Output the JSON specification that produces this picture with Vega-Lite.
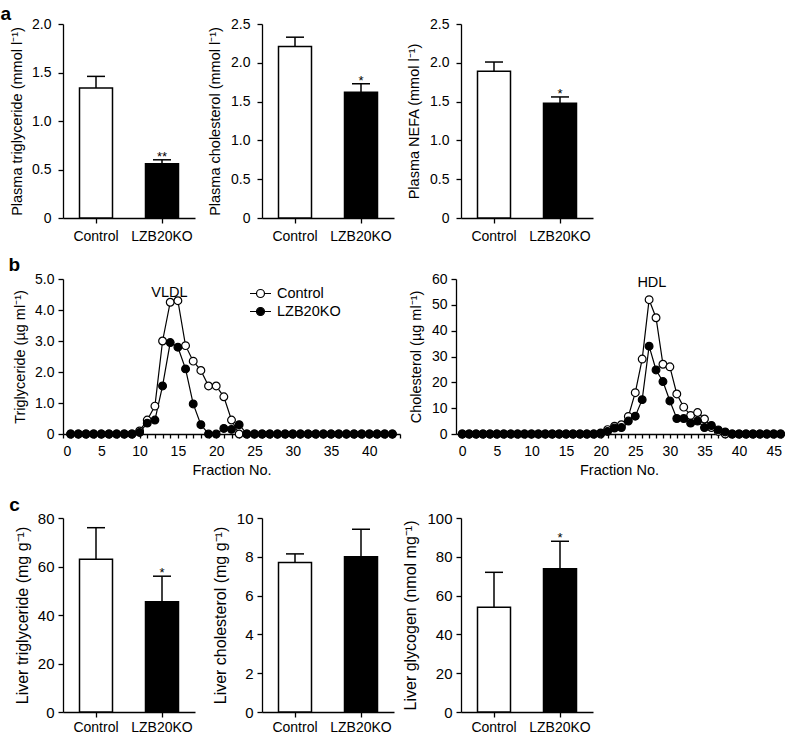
{
  "$schema": "https://vega.github.io/schema/vega-lite/v6.json",
  "padding": {"left": 0, "top": 5, "right": 0, "bottom": 0},
  "background": "white",
  "datasets": {
    "b1": [
      {"f":1,"v":0,"g":"Control"},{"f":2,"v":0,"g":"Control"},{"f":3,"v":0,"g":"Control"},{"f":4,"v":0,"g":"Control"},{"f":5,"v":0,"g":"Control"},{"f":6,"v":0,"g":"Control"},{"f":7,"v":0,"g":"Control"},{"f":8,"v":0,"g":"Control"},{"f":9,"v":0,"g":"Control"},{"f":10,"v":0.1,"g":"Control"},{"f":11,"v":0.45,"g":"Control"},{"f":12,"v":0.9,"g":"Control"},{"f":13,"v":3.0,"g":"Control"},{"f":14,"v":4.25,"g":"Control"},{"f":15,"v":4.3,"g":"Control"},{"f":16,"v":2.85,"g":"Control"},{"f":17,"v":2.35,"g":"Control"},{"f":18,"v":2.05,"g":"Control"},{"f":19,"v":1.55,"g":"Control"},{"f":20,"v":1.55,"g":"Control"},{"f":21,"v":1.2,"g":"Control"},{"f":22,"v":0.45,"g":"Control"},{"f":23,"v":0,"g":"Control"},{"f":24,"v":0,"g":"Control"},{"f":25,"v":0,"g":"Control"},{"f":26,"v":0,"g":"Control"},{"f":27,"v":0,"g":"Control"},{"f":28,"v":0,"g":"Control"},{"f":29,"v":0,"g":"Control"},{"f":30,"v":0,"g":"Control"},{"f":31,"v":0,"g":"Control"},{"f":32,"v":0,"g":"Control"},{"f":33,"v":0,"g":"Control"},{"f":34,"v":0,"g":"Control"},{"f":35,"v":0,"g":"Control"},{"f":36,"v":0,"g":"Control"},{"f":37,"v":0,"g":"Control"},{"f":38,"v":0,"g":"Control"},{"f":39,"v":0,"g":"Control"},{"f":40,"v":0,"g":"Control"},{"f":41,"v":0,"g":"Control"},{"f":42,"v":0,"g":"Control"},{"f":43,"v":0,"g":"Control"},
      {"f":1,"v":0,"g":"LZB20KO"},{"f":2,"v":0,"g":"LZB20KO"},{"f":3,"v":0,"g":"LZB20KO"},{"f":4,"v":0,"g":"LZB20KO"},{"f":5,"v":0,"g":"LZB20KO"},{"f":6,"v":0,"g":"LZB20KO"},{"f":7,"v":0,"g":"LZB20KO"},{"f":8,"v":0,"g":"LZB20KO"},{"f":9,"v":0,"g":"LZB20KO"},{"f":10,"v":0.05,"g":"LZB20KO"},{"f":11,"v":0.35,"g":"LZB20KO"},{"f":12,"v":0.45,"g":"LZB20KO"},{"f":13,"v":1.55,"g":"LZB20KO"},{"f":14,"v":2.95,"g":"LZB20KO"},{"f":15,"v":2.8,"g":"LZB20KO"},{"f":16,"v":2.1,"g":"LZB20KO"},{"f":17,"v":0.97,"g":"LZB20KO"},{"f":18,"v":0.3,"g":"LZB20KO"},{"f":19,"v":0,"g":"LZB20KO"},{"f":20,"v":0,"g":"LZB20KO"},{"f":21,"v":0.18,"g":"LZB20KO"},{"f":22,"v":0.15,"g":"LZB20KO"},{"f":23,"v":0.3,"g":"LZB20KO"},{"f":24,"v":0,"g":"LZB20KO"},{"f":25,"v":0,"g":"LZB20KO"},{"f":26,"v":0,"g":"LZB20KO"},{"f":27,"v":0,"g":"LZB20KO"},{"f":28,"v":0,"g":"LZB20KO"},{"f":29,"v":0,"g":"LZB20KO"},{"f":30,"v":0,"g":"LZB20KO"},{"f":31,"v":0,"g":"LZB20KO"},{"f":32,"v":0,"g":"LZB20KO"},{"f":33,"v":0,"g":"LZB20KO"},{"f":34,"v":0,"g":"LZB20KO"},{"f":35,"v":0,"g":"LZB20KO"},{"f":36,"v":0,"g":"LZB20KO"},{"f":37,"v":0,"g":"LZB20KO"},{"f":38,"v":0,"g":"LZB20KO"},{"f":39,"v":0,"g":"LZB20KO"},{"f":40,"v":0,"g":"LZB20KO"},{"f":41,"v":0,"g":"LZB20KO"},{"f":42,"v":0,"g":"LZB20KO"},{"f":43,"v":0,"g":"LZB20KO"}
    ],
    "b2": [
      {"f":0,"v":0,"g":"Control"},{"f":1,"v":0,"g":"Control"},{"f":2,"v":0,"g":"Control"},{"f":3,"v":0,"g":"Control"},{"f":4,"v":0,"g":"Control"},{"f":5,"v":0,"g":"Control"},{"f":6,"v":0,"g":"Control"},{"f":7,"v":0,"g":"Control"},{"f":8,"v":0,"g":"Control"},{"f":9,"v":0,"g":"Control"},{"f":10,"v":0,"g":"Control"},{"f":11,"v":0,"g":"Control"},{"f":12,"v":0,"g":"Control"},{"f":13,"v":0,"g":"Control"},{"f":14,"v":0,"g":"Control"},{"f":15,"v":0,"g":"Control"},{"f":16,"v":0,"g":"Control"},{"f":17,"v":0,"g":"Control"},{"f":18,"v":0,"g":"Control"},{"f":19,"v":0,"g":"Control"},{"f":20,"v":0,"g":"Control"},{"f":21,"v":1.7,"g":"Control"},{"f":22,"v":3,"g":"Control"},{"f":23,"v":3.6,"g":"Control"},{"f":24,"v":6.8,"g":"Control"},{"f":25,"v":16,"g":"Control"},{"f":26,"v":29,"g":"Control"},{"f":27,"v":52,"g":"Control"},{"f":28,"v":45,"g":"Control"},{"f":29,"v":27,"g":"Control"},{"f":30,"v":26,"g":"Control"},{"f":31,"v":15.5,"g":"Control"},{"f":32,"v":10.4,"g":"Control"},{"f":33,"v":7.2,"g":"Control"},{"f":34,"v":8.3,"g":"Control"},{"f":35,"v":5.8,"g":"Control"},{"f":36,"v":2.5,"g":"Control"},{"f":37,"v":1,"g":"Control"},{"f":38,"v":0,"g":"Control"},{"f":39,"v":0,"g":"Control"},{"f":40,"v":0,"g":"Control"},{"f":41,"v":0,"g":"Control"},{"f":42,"v":0,"g":"Control"},{"f":43,"v":0,"g":"Control"},{"f":44,"v":0,"g":"Control"},{"f":45,"v":0,"g":"Control"},{"f":46,"v":0,"g":"Control"},
      {"f":0,"v":0,"g":"LZB20KO"},{"f":1,"v":0,"g":"LZB20KO"},{"f":2,"v":0,"g":"LZB20KO"},{"f":3,"v":0,"g":"LZB20KO"},{"f":4,"v":0,"g":"LZB20KO"},{"f":5,"v":0,"g":"LZB20KO"},{"f":6,"v":0,"g":"LZB20KO"},{"f":7,"v":0,"g":"LZB20KO"},{"f":8,"v":0,"g":"LZB20KO"},{"f":9,"v":0,"g":"LZB20KO"},{"f":10,"v":0,"g":"LZB20KO"},{"f":11,"v":0,"g":"LZB20KO"},{"f":12,"v":0,"g":"LZB20KO"},{"f":13,"v":0,"g":"LZB20KO"},{"f":14,"v":0,"g":"LZB20KO"},{"f":15,"v":0,"g":"LZB20KO"},{"f":16,"v":0,"g":"LZB20KO"},{"f":17,"v":0,"g":"LZB20KO"},{"f":18,"v":0,"g":"LZB20KO"},{"f":19,"v":0,"g":"LZB20KO"},{"f":20,"v":0.4,"g":"LZB20KO"},{"f":21,"v":1,"g":"LZB20KO"},{"f":22,"v":2.3,"g":"LZB20KO"},{"f":23,"v":2.5,"g":"LZB20KO"},{"f":24,"v":5,"g":"LZB20KO"},{"f":25,"v":6.9,"g":"LZB20KO"},{"f":26,"v":13.3,"g":"LZB20KO"},{"f":27,"v":34,"g":"LZB20KO"},{"f":28,"v":24.8,"g":"LZB20KO"},{"f":29,"v":20.3,"g":"LZB20KO"},{"f":30,"v":12.8,"g":"LZB20KO"},{"f":31,"v":6,"g":"LZB20KO"},{"f":32,"v":6,"g":"LZB20KO"},{"f":33,"v":4.2,"g":"LZB20KO"},{"f":34,"v":5,"g":"LZB20KO"},{"f":35,"v":2.5,"g":"LZB20KO"},{"f":36,"v":3.3,"g":"LZB20KO"},{"f":37,"v":1.6,"g":"LZB20KO"},{"f":38,"v":0.8,"g":"LZB20KO"},{"f":39,"v":0,"g":"LZB20KO"},{"f":40,"v":0,"g":"LZB20KO"},{"f":41,"v":0,"g":"LZB20KO"},{"f":42,"v":0,"g":"LZB20KO"},{"f":43,"v":0,"g":"LZB20KO"},{"f":44,"v":0,"g":"LZB20KO"},{"f":45,"v":0,"g":"LZB20KO"},{"f":46,"v":0,"g":"LZB20KO"}
    ]
  },
  "vconcat": [
    {
      "vconcat": [
        {
          "title": {"text": "a", "anchor": "start", "frame": "bounds", "fontSize": 19, "fontWeight": "bold", "offset": -7, "dx": -9, "color": "black"},
          "hconcat": [
            {
              "width": 132, "height": 194,
              "data": {"values": [{"g":"Control","m":1.34,"e":1.46,"s":""},{"g":"LZB20KO","m":0.56,"e":0.6,"s":"**"}]},
              "encoding": {"x": {"field": "g", "type": "nominal", "sort": null, "title": null, "scale": {"paddingInner": 0.5, "paddingOuter": 0.25}, "axis": {"labelAngle": 0, "labelPadding": 6}}},
              "layer": [
                {"mark": {"type": "rule", "color": "black", "strokeWidth": 1.5}, "encoding": {"y": {"field": "m", "type": "quantitative", "scale": {"domain": [0, 2], "nice": false}, "axis": {"title": "Plasma triglyceride (mmol l⁻¹)", "values": [0, 0.5, 1, 1.5, 2], "labelExpr": "datum.value == 0 ? '0' : format(datum.value, '.1f')", "labelPadding": 7, "titlePadding": 7}}, "y2": {"field": "e"}}},
                {"mark": {"type": "tick", "color": "black", "thickness": 1.5, "size": 18, "orient": "horizontal", "opacity": 1}, "encoding": {"y": {"field": "e", "type": "quantitative", "scale": {"domain": [0, 2], "nice": false}, "axis": {"title": "Plasma triglyceride (mmol l⁻¹)", "values": [0, 0.5, 1, 1.5, 2], "labelExpr": "datum.value == 0 ? '0' : format(datum.value, '.1f')", "labelPadding": 7, "titlePadding": 7}}}},
                {"mark": {"type": "bar", "stroke": "black", "strokeWidth": 1.5}, "encoding": {"y": {"field": "m", "type": "quantitative", "scale": {"domain": [0, 2], "nice": false}, "axis": {"title": "Plasma triglyceride (mmol l⁻¹)", "values": [0, 0.5, 1, 1.5, 2], "labelExpr": "datum.value == 0 ? '0' : format(datum.value, '.1f')", "labelPadding": 7, "titlePadding": 7}}, "fill": {"field": "g", "type": "nominal", "scale": {"domain": ["Control", "LZB20KO"], "range": ["white", "black"]}, "legend": null}}},
                {"mark": {"type": "text", "fontSize": 13, "baseline": "alphabetic", "dy": 1, "color": "black"}, "encoding": {"y": {"field": "e", "type": "quantitative", "scale": {"domain": [0, 2], "nice": false}, "axis": {"title": "Plasma triglyceride (mmol l⁻¹)", "values": [0, 0.5, 1, 1.5, 2], "labelExpr": "datum.value == 0 ? '0' : format(datum.value, '.1f')", "labelPadding": 7, "titlePadding": 7}}, "text": {"field": "s"}}}
              ]
            },
            {
              "width": 132, "height": 194,
              "data": {"values": [{"g":"Control","m":2.21,"e":2.33,"s":""},{"g":"LZB20KO","m":1.62,"e":1.73,"s":"*"}]},
              "encoding": {"x": {"field": "g", "type": "nominal", "sort": null, "title": null, "scale": {"paddingInner": 0.5, "paddingOuter": 0.25}, "axis": {"labelAngle": 0, "labelPadding": 6}}},
              "layer": [
                {"mark": {"type": "rule", "color": "black", "strokeWidth": 1.5}, "encoding": {"y": {"field": "m", "type": "quantitative", "scale": {"domain": [0, 2.5], "nice": false}, "axis": {"title": "Plasma cholesterol (mmol l⁻¹)", "values": [0, 0.5, 1, 1.5, 2, 2.5], "labelExpr": "datum.value == 0 ? '0' : format(datum.value, '.1f')", "labelPadding": 7, "titlePadding": 8}}, "y2": {"field": "e"}}},
                {"mark": {"type": "tick", "color": "black", "thickness": 1.5, "size": 18, "orient": "horizontal", "opacity": 1}, "encoding": {"y": {"field": "e", "type": "quantitative", "scale": {"domain": [0, 2.5], "nice": false}, "axis": {"title": "Plasma cholesterol (mmol l⁻¹)", "values": [0, 0.5, 1, 1.5, 2, 2.5], "labelExpr": "datum.value == 0 ? '0' : format(datum.value, '.1f')", "labelPadding": 7, "titlePadding": 8}}}},
                {"mark": {"type": "bar", "stroke": "black", "strokeWidth": 1.5}, "encoding": {"y": {"field": "m", "type": "quantitative", "scale": {"domain": [0, 2.5], "nice": false}, "axis": {"title": "Plasma cholesterol (mmol l⁻¹)", "values": [0, 0.5, 1, 1.5, 2, 2.5], "labelExpr": "datum.value == 0 ? '0' : format(datum.value, '.1f')", "labelPadding": 7, "titlePadding": 8}}, "fill": {"field": "g", "type": "nominal", "scale": {"domain": ["Control", "LZB20KO"], "range": ["white", "black"]}, "legend": null}}},
                {"mark": {"type": "text", "fontSize": 13, "baseline": "alphabetic", "dy": 1, "color": "black"}, "encoding": {"y": {"field": "e", "type": "quantitative", "scale": {"domain": [0, 2.5], "nice": false}, "axis": {"title": "Plasma cholesterol (mmol l⁻¹)", "values": [0, 0.5, 1, 1.5, 2, 2.5], "labelExpr": "datum.value == 0 ? '0' : format(datum.value, '.1f')", "labelPadding": 7, "titlePadding": 8}}, "text": {"field": "s"}}}
              ]
            },
            {
              "width": 132, "height": 194,
              "data": {"values": [{"g":"Control","m":1.89,"e":2.01,"s":""},{"g":"LZB20KO","m":1.48,"e":1.56,"s":"*"}]},
              "encoding": {"x": {"field": "g", "type": "nominal", "sort": null, "title": null, "scale": {"paddingInner": 0.5, "paddingOuter": 0.25}, "axis": {"labelAngle": 0, "labelPadding": 6}}},
              "layer": [
                {"mark": {"type": "rule", "color": "black", "strokeWidth": 1.5}, "encoding": {"y": {"field": "m", "type": "quantitative", "scale": {"domain": [0, 2.5], "nice": false}, "axis": {"title": "Plasma NEFA (mmol l⁻¹)", "values": [0, 0.5, 1, 1.5, 2, 2.5], "labelExpr": "datum.value == 0 ? '0' : format(datum.value, '.1f')", "labelPadding": 7, "titlePadding": 8}}, "y2": {"field": "e"}}},
                {"mark": {"type": "tick", "color": "black", "thickness": 1.5, "size": 18, "orient": "horizontal", "opacity": 1}, "encoding": {"y": {"field": "e", "type": "quantitative", "scale": {"domain": [0, 2.5], "nice": false}, "axis": {"title": "Plasma NEFA (mmol l⁻¹)", "values": [0, 0.5, 1, 1.5, 2, 2.5], "labelExpr": "datum.value == 0 ? '0' : format(datum.value, '.1f')", "labelPadding": 7, "titlePadding": 8}}}},
                {"mark": {"type": "bar", "stroke": "black", "strokeWidth": 1.5}, "encoding": {"y": {"field": "m", "type": "quantitative", "scale": {"domain": [0, 2.5], "nice": false}, "axis": {"title": "Plasma NEFA (mmol l⁻¹)", "values": [0, 0.5, 1, 1.5, 2, 2.5], "labelExpr": "datum.value == 0 ? '0' : format(datum.value, '.1f')", "labelPadding": 7, "titlePadding": 8}}, "fill": {"field": "g", "type": "nominal", "scale": {"domain": ["Control", "LZB20KO"], "range": ["white", "black"]}, "legend": null}}},
                {"mark": {"type": "text", "fontSize": 13, "baseline": "alphabetic", "dy": 1, "color": "black"}, "encoding": {"y": {"field": "e", "type": "quantitative", "scale": {"domain": [0, 2.5], "nice": false}, "axis": {"title": "Plasma NEFA (mmol l⁻¹)", "values": [0, 0.5, 1, 1.5, 2, 2.5], "labelExpr": "datum.value == 0 ? '0' : format(datum.value, '.1f')", "labelPadding": 7, "titlePadding": 8}}, "text": {"field": "s"}}}
              ]
            }
          ],
          "spacing": 67,
          "bounds": "flush",
          "resolve": {"scale": {"fill": "independent"}, "legend": {"fill": "independent"}}
        },
        {
          "title": {"text": "b", "anchor": "start", "frame": "bounds", "fontSize": 19, "fontWeight": "bold", "offset": -3, "dx": -4, "color": "black"},
          "hconcat": [
            {
              "width": 337, "height": 155,
              "layer": [
                {
                  "data": {"name": "b1"},
                  "mark": {"type": "line", "color": "black", "strokeWidth": 1.2},
                  "encoding": {
                    "x": {"field": "f", "type": "quantitative", "scale": {"domain": [0, 44], "nice": false}, "axis": {"title": "Fraction No.", "values": [0,1,2,3,4,5,6,7,8,9,10,11,12,13,14,15,16,17,18,19,20,21,22,23,24,25,26,27,28,29,30,31,32,33,34,35,36,37,38,39,40,41,42,43,44], "labelExpr": "datum.value % 5 == 0 ? datum.label : ''", "labelOverlap": false, "tickSize": 4, "labelPadding": 6, "titlePadding": 5}},
                    "y": {"field": "v", "type": "quantitative", "scale": {"domain": [0, 5], "nice": false}, "axis": {"title": "Triglyceride (µg ml⁻¹)", "values": [0,1,2,3,4,5], "labelExpr": "datum.value == 0 ? '0' : format(datum.value, '.1f')", "labelPadding": 4, "titlePadding": 7}},
                    "detail": {"field": "g"}
                  }
                },
                {
                  "data": {"name": "b1"},
                  "mark": {"type": "point", "filled": true, "stroke": "black", "strokeWidth": 1.2, "size": 60, "opacity": 1},
                  "encoding": {
                    "x": {"field": "f", "type": "quantitative", "scale": {"domain": [0, 44], "nice": false}, "axis": {"title": "Fraction No.", "values": [0,1,2,3,4,5,6,7,8,9,10,11,12,13,14,15,16,17,18,19,20,21,22,23,24,25,26,27,28,29,30,31,32,33,34,35,36,37,38,39,40,41,42,43,44], "labelExpr": "datum.value % 5 == 0 ? datum.label : ''", "labelOverlap": false, "tickSize": 4, "labelPadding": 6, "titlePadding": 5}},
                    "y": {"field": "v", "type": "quantitative", "scale": {"domain": [0, 5], "nice": false}, "axis": {"title": "Triglyceride (µg ml⁻¹)", "values": [0,1,2,3,4,5], "labelExpr": "datum.value == 0 ? '0' : format(datum.value, '.1f')", "labelPadding": 4, "titlePadding": 7}},
                    "fill": {"field": "g", "type": "nominal", "scale": {"domain": ["Control", "LZB20KO"], "range": ["white", "black"]},
                      "legend": {"title": null, "orient": "none", "legendX": 186, "legendY": 3, "symbolType": "M-1,0L-0.38,0M0.38,0L1,0M0.38,0A0.38,0.38,0,1,1,-0.38,0A0.38,0.38,0,1,1,0.38,0Z", "symbolSize": 441, "symbolStrokeColor": "black", "symbolStrokeWidth": 1.2, "symbolOpacity": 1, "labelFontSize": 14.5, "labelColor": "black", "labelOffset": 5, "rowPadding": -2}}
                  }
                },
                {
                  "data": {"values": [{"f": 13.9, "v": 4.55, "t": "VLDL"}]},
                  "mark": {"type": "text", "fontSize": 14.5, "color": "black", "baseline": "middle"},
                  "encoding": {
                    "x": {"field": "f", "type": "quantitative", "scale": {"domain": [0, 44], "nice": false}, "axis": {"title": "Fraction No.", "values": [0,1,2,3,4,5,6,7,8,9,10,11,12,13,14,15,16,17,18,19,20,21,22,23,24,25,26,27,28,29,30,31,32,33,34,35,36,37,38,39,40,41,42,43,44], "labelExpr": "datum.value % 5 == 0 ? datum.label : ''", "labelOverlap": false, "tickSize": 4, "labelPadding": 6, "titlePadding": 5}},
                    "y": {"field": "v", "type": "quantitative", "scale": {"domain": [0, 5], "nice": false}, "axis": {"title": "Triglyceride (µg ml⁻¹)", "values": [0,1,2,3,4,5], "labelExpr": "datum.value == 0 ? '0' : format(datum.value, '.1f')", "labelPadding": 4, "titlePadding": 7}},
                    "text": {"field": "t"}
                  }
                }
              ]
            },
            {
              "width": 326, "height": 155,
              "layer": [
                {
                  "data": {"name": "b2"},
                  "mark": {"type": "line", "color": "black", "strokeWidth": 1.2},
                  "encoding": {
                    "x": {"field": "f", "type": "quantitative", "scale": {"domain": [-0.9, 46.2], "nice": false, "zero": false}, "axis": {"title": "Fraction No.", "values": [0,1,2,3,4,5,6,7,8,9,10,11,12,13,14,15,16,17,18,19,20,21,22,23,24,25,26,27,28,29,30,31,32,33,34,35,36,37,38,39,40,41,42,43,44,45,46], "labelExpr": "datum.value % 5 == 0 ? datum.label : ''", "labelOverlap": false, "tickSize": 4, "labelPadding": 6, "titlePadding": 5}},
                    "y": {"field": "v", "type": "quantitative", "scale": {"domain": [0, 60], "nice": false}, "axis": {"title": "Cholesterol (µg ml⁻¹)", "values": [0,10,20,30,40,50,60], "labelPadding": 4, "titlePadding": 8}},
                    "detail": {"field": "g"}
                  }
                },
                {
                  "data": {"name": "b2"},
                  "mark": {"type": "point", "filled": true, "stroke": "black", "strokeWidth": 1.2, "size": 60, "opacity": 1},
                  "encoding": {
                    "x": {"field": "f", "type": "quantitative", "scale": {"domain": [-0.9, 46.2], "nice": false, "zero": false}, "axis": {"title": "Fraction No.", "values": [0,1,2,3,4,5,6,7,8,9,10,11,12,13,14,15,16,17,18,19,20,21,22,23,24,25,26,27,28,29,30,31,32,33,34,35,36,37,38,39,40,41,42,43,44,45,46], "labelExpr": "datum.value % 5 == 0 ? datum.label : ''", "labelOverlap": false, "tickSize": 4, "labelPadding": 6, "titlePadding": 5}},
                    "y": {"field": "v", "type": "quantitative", "scale": {"domain": [0, 60], "nice": false}, "axis": {"title": "Cholesterol (µg ml⁻¹)", "values": [0,10,20,30,40,50,60], "labelPadding": 4, "titlePadding": 8}},
                    "fill": {"field": "g", "type": "nominal", "scale": {"domain": ["Control", "LZB20KO"], "range": ["white", "black"]}, "legend": null}
                  }
                },
                {
                  "data": {"values": [{"f": 27.4, "v": 58.3, "t": "HDL"}]},
                  "mark": {"type": "text", "fontSize": 14.5, "color": "black", "baseline": "middle"},
                  "encoding": {
                    "x": {"field": "f", "type": "quantitative", "scale": {"domain": [-0.9, 46.2], "nice": false, "zero": false}, "axis": {"title": "Fraction No.", "values": [0,1,2,3,4,5,6,7,8,9,10,11,12,13,14,15,16,17,18,19,20,21,22,23,24,25,26,27,28,29,30,31,32,33,34,35,36,37,38,39,40,41,42,43,44,45,46], "labelExpr": "datum.value % 5 == 0 ? datum.label : ''", "labelOverlap": false, "tickSize": 4, "labelPadding": 6, "titlePadding": 5}},
                    "y": {"field": "v", "type": "quantitative", "scale": {"domain": [0, 60], "nice": false}, "axis": {"title": "Cholesterol (µg ml⁻¹)", "values": [0,10,20,30,40,50,60], "labelPadding": 4, "titlePadding": 8}},
                    "text": {"field": "t"}
                  }
                }
              ]
            }
          ],
          "spacing": 56,
          "bounds": "flush",
          "resolve": {"scale": {"fill": "independent"}, "legend": {"fill": "independent"}}
        }
      ],
      "spacing": 13,
      "resolve": {"scale": {"fill": "independent"}, "legend": {"fill": "independent"}}
    },
    {
      "title": {"text": "c", "anchor": "start", "frame": "bounds", "fontSize": 19, "fontWeight": "bold", "offset": -4, "dx": -5, "color": "black"},
      "hconcat": [
        {
          "width": 132, "height": 194,
          "data": {"values": [{"g":"Control","m":63,"e":76,"s":""},{"g":"LZB20KO","m":45.5,"e":56,"s":"*"}]},
          "encoding": {"x": {"field": "g", "type": "nominal", "sort": null, "title": null, "scale": {"paddingInner": 0.5, "paddingOuter": 0.25}, "axis": {"labelAngle": 0, "labelPadding": 3, "labelFontSize": 14}}},
          "layer": [
            {"mark": {"type": "rule", "color": "black", "strokeWidth": 1.5}, "encoding": {"y": {"field": "m", "type": "quantitative", "scale": {"domain": [0, 80], "nice": false}, "axis": {"title": "Liver triglyceride (mg g⁻¹)", "values": [0, 20, 40, 60, 80], "labelPadding": 4, "titlePadding": 7, "labelFontSize": 15, "titleFontSize": 16}}, "y2": {"field": "e"}}},
            {"mark": {"type": "tick", "color": "black", "thickness": 1.5, "size": 18, "orient": "horizontal", "opacity": 1}, "encoding": {"y": {"field": "e", "type": "quantitative", "scale": {"domain": [0, 80], "nice": false}, "axis": {"title": "Liver triglyceride (mg g⁻¹)", "values": [0, 20, 40, 60, 80], "labelPadding": 4, "titlePadding": 7, "labelFontSize": 15, "titleFontSize": 16}}}},
            {"mark": {"type": "bar", "stroke": "black", "strokeWidth": 1.5}, "encoding": {"y": {"field": "m", "type": "quantitative", "scale": {"domain": [0, 80], "nice": false}, "axis": {"title": "Liver triglyceride (mg g⁻¹)", "values": [0, 20, 40, 60, 80], "labelPadding": 4, "titlePadding": 7, "labelFontSize": 15, "titleFontSize": 16}}, "fill": {"field": "g", "type": "nominal", "scale": {"domain": ["Control", "LZB20KO"], "range": ["white", "black"]}, "legend": null}}},
            {"mark": {"type": "text", "fontSize": 13, "baseline": "alphabetic", "dy": 1, "color": "black"}, "encoding": {"y": {"field": "e", "type": "quantitative", "scale": {"domain": [0, 80], "nice": false}, "axis": {"title": "Liver triglyceride (mg g⁻¹)", "values": [0, 20, 40, 60, 80], "labelPadding": 4, "titlePadding": 7, "labelFontSize": 15, "titleFontSize": 16}}, "text": {"field": "s"}}}
          ]
        },
        {
          "width": 132, "height": 194,
          "data": {"values": [{"g":"Control","m":7.7,"e":8.15,"s":""},{"g":"LZB20KO","m":8.0,"e":9.42,"s":""}]},
          "encoding": {"x": {"field": "g", "type": "nominal", "sort": null, "title": null, "scale": {"paddingInner": 0.5, "paddingOuter": 0.25}, "axis": {"labelAngle": 0, "labelPadding": 3, "labelFontSize": 14}}},
          "layer": [
            {"mark": {"type": "rule", "color": "black", "strokeWidth": 1.5}, "encoding": {"y": {"field": "m", "type": "quantitative", "scale": {"domain": [0, 10], "nice": false}, "axis": {"title": "Liver cholesterol (mg g⁻¹)", "values": [0, 2, 4, 6, 8, 10], "labelPadding": 4, "titlePadding": 8, "labelFontSize": 15, "titleFontSize": 16}}, "y2": {"field": "e"}}},
            {"mark": {"type": "tick", "color": "black", "thickness": 1.5, "size": 18, "orient": "horizontal", "opacity": 1}, "encoding": {"y": {"field": "e", "type": "quantitative", "scale": {"domain": [0, 10], "nice": false}, "axis": {"title": "Liver cholesterol (mg g⁻¹)", "values": [0, 2, 4, 6, 8, 10], "labelPadding": 4, "titlePadding": 8, "labelFontSize": 15, "titleFontSize": 16}}}},
            {"mark": {"type": "bar", "stroke": "black", "strokeWidth": 1.5}, "encoding": {"y": {"field": "m", "type": "quantitative", "scale": {"domain": [0, 10], "nice": false}, "axis": {"title": "Liver cholesterol (mg g⁻¹)", "values": [0, 2, 4, 6, 8, 10], "labelPadding": 4, "titlePadding": 8, "labelFontSize": 15, "titleFontSize": 16}}, "fill": {"field": "g", "type": "nominal", "scale": {"domain": ["Control", "LZB20KO"], "range": ["white", "black"]}, "legend": null}}}
          ]
        },
        {
          "width": 132, "height": 194,
          "data": {"values": [{"g":"Control","m":54,"e":72,"s":""},{"g":"LZB20KO","m":73.8,"e":88,"s":"*"}]},
          "encoding": {"x": {"field": "g", "type": "nominal", "sort": null, "title": null, "scale": {"paddingInner": 0.5, "paddingOuter": 0.25}, "axis": {"labelAngle": 0, "labelPadding": 3, "labelFontSize": 14}}},
          "layer": [
            {"mark": {"type": "rule", "color": "black", "strokeWidth": 1.5}, "encoding": {"y": {"field": "m", "type": "quantitative", "scale": {"domain": [0, 100], "nice": false}, "axis": {"title": "Liver glycogen (nmol mg⁻¹)", "values": [0, 20, 40, 60, 80, 100], "labelPadding": 4, "titlePadding": 8, "labelFontSize": 15, "titleFontSize": 16}}, "y2": {"field": "e"}}},
            {"mark": {"type": "tick", "color": "black", "thickness": 1.5, "size": 18, "orient": "horizontal", "opacity": 1}, "encoding": {"y": {"field": "e", "type": "quantitative", "scale": {"domain": [0, 100], "nice": false}, "axis": {"title": "Liver glycogen (nmol mg⁻¹)", "values": [0, 20, 40, 60, 80, 100], "labelPadding": 4, "titlePadding": 8, "labelFontSize": 15, "titleFontSize": 16}}}},
            {"mark": {"type": "bar", "stroke": "black", "strokeWidth": 1.5}, "encoding": {"y": {"field": "m", "type": "quantitative", "scale": {"domain": [0, 100], "nice": false}, "axis": {"title": "Liver glycogen (nmol mg⁻¹)", "values": [0, 20, 40, 60, 80, 100], "labelPadding": 4, "titlePadding": 8, "labelFontSize": 15, "titleFontSize": 16}}, "fill": {"field": "g", "type": "nominal", "scale": {"domain": ["Control", "LZB20KO"], "range": ["white", "black"]}, "legend": null}}},
            {"mark": {"type": "text", "fontSize": 13, "baseline": "alphabetic", "dy": 1, "color": "black"}, "encoding": {"y": {"field": "e", "type": "quantitative", "scale": {"domain": [0, 100], "nice": false}, "axis": {"title": "Liver glycogen (nmol mg⁻¹)", "values": [0, 20, 40, 60, 80, 100], "labelPadding": 4, "titlePadding": 8, "labelFontSize": 15, "titleFontSize": 16}}, "text": {"field": "s"}}}
          ]
        }
      ],
      "spacing": 67,
      "bounds": "flush",
      "resolve": {"scale": {"fill": "independent"}, "legend": {"fill": "independent"}}
    }
  ],
  "spacing": 19,
  "resolve": {"scale": {"fill": "independent"}, "legend": {"fill": "independent"}},
  "config": {
    "font": "Liberation Sans",
    "view": {"stroke": null},
    "axis": {"domainColor": "black", "tickColor": "black", "labelColor": "black", "titleColor": "black", "domainWidth": 1.3, "tickWidth": 1.3, "tickSize": 5, "grid": false, "labelFont": "Liberation Sans", "titleFont": "Liberation Sans", "labelFontSize": 14, "titleFontSize": 14.5, "titleFontWeight": "normal"},
    "legend": {"labelFont": "Liberation Sans"},
    "title": {"font": "Liberation Sans"}
  }
}
